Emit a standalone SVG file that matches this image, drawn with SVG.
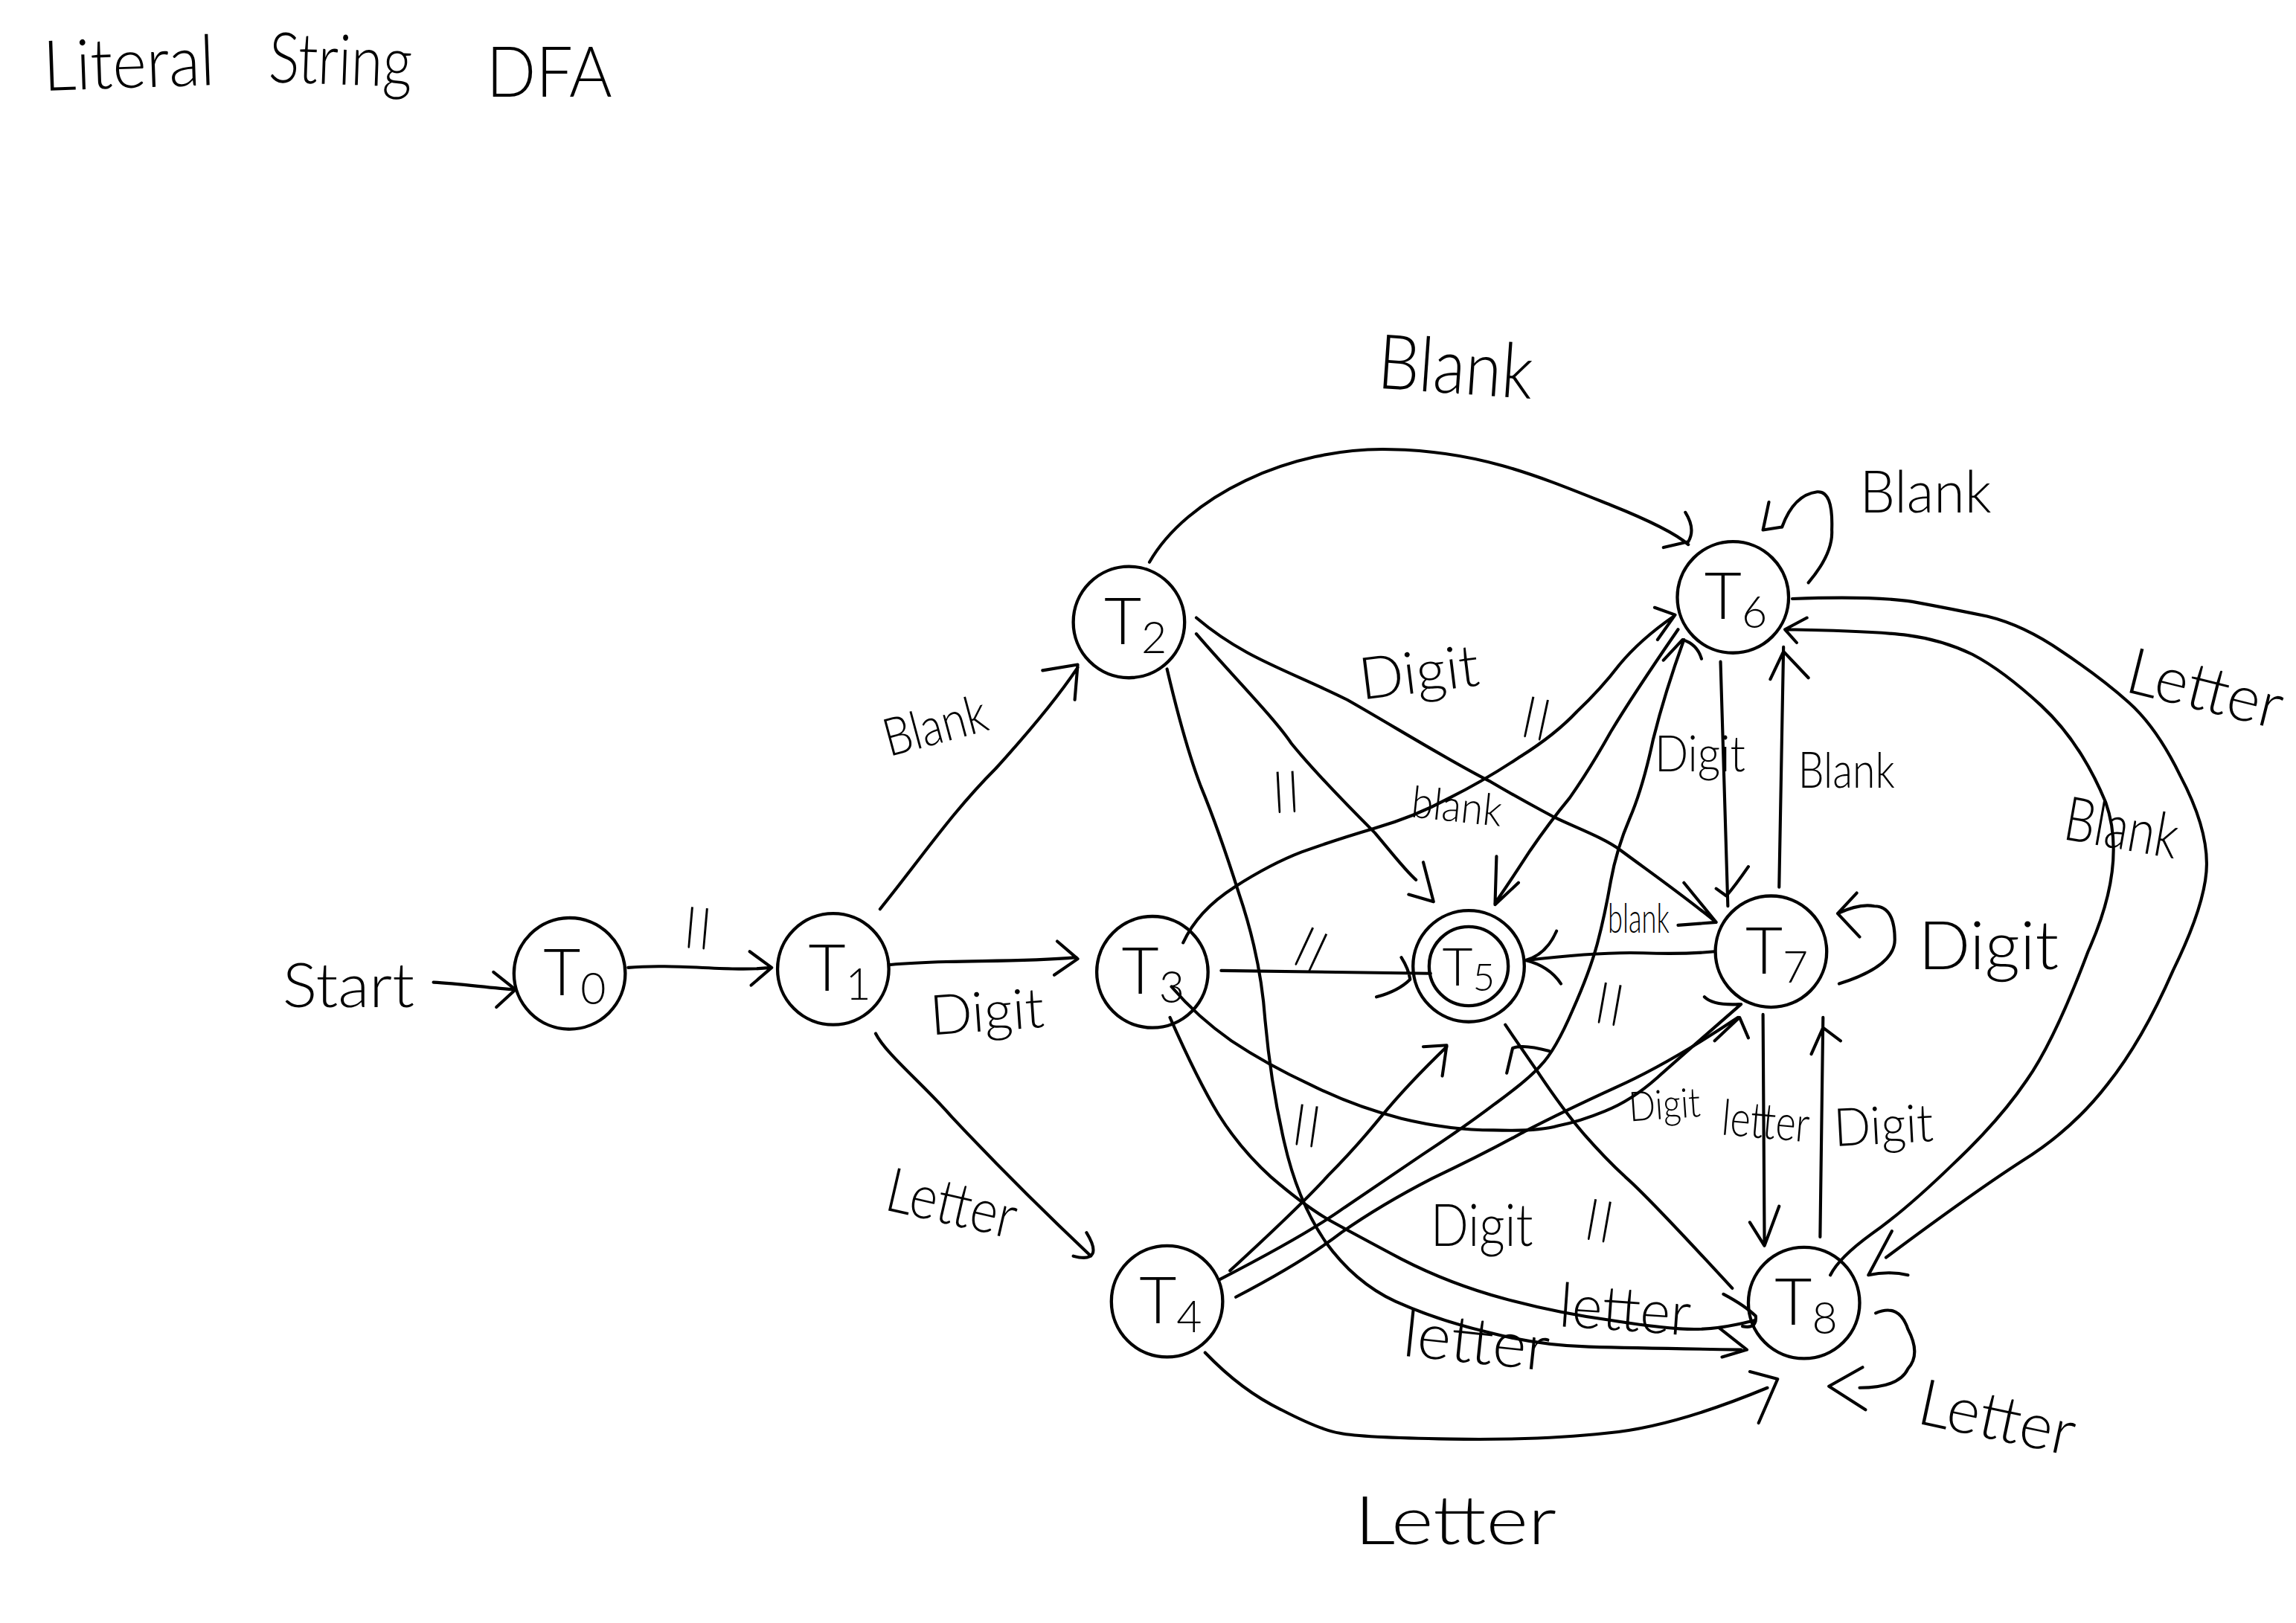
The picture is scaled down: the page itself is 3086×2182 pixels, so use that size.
<svg xmlns="http://www.w3.org/2000/svg" width="3086" height="2182" viewBox="0 0 3086 2182">
<style>
.bg{fill:#fff}
.c{fill:none;stroke:#000;stroke-width:2.1;stroke-linecap:round;stroke-linejoin:round}
.n{fill:none;stroke:#000;stroke-width:2.2}
text{font-family:"Lato","Liberation Sans",sans-serif;font-weight:300;fill:#000}
.t{font-size:44px}
.s{font-size:30px}
.q{font-weight:100;font-size:100px;text-anchor:middle;stroke:#000;stroke-width:.9}
</style>
<rect class="bg" width="3086" height="2182"/>
<g transform="scale(1.96811)">
<g id="connectors">
<path class="c" id="e-start" d="M296,671 C315,672 335,675 352,676 M337,664 L352,676 L339,688"/>
<path class="c" id="e-t0-t1" d="M429,661 C460,658 500,664 526,661 M512,650 L527,661 L513,673"/>
<path class="c" id="e-t1-t2" d="M601,621 C630,585 650,555 680,525 C700,503 720,480 736,456 M712,458 L736,454 L734,478"/>
<path class="c" id="e-t1-t3" d="M608,659 C650,655 690,658 735,654 M722,643 L736,655 L720,666"/>
<path class="c" id="e-t1-t4" d="M598,706 C605,720 630,740 650,763 C680,795 710,825 745,858 M742,842 C750,855 748,862 733,858"/>
<path class="c" id="e-t2-t6" d="M785,384 C810,340 880,305 950,307 C1010,308 1050,325 1100,345 C1125,355 1145,365 1153,372 M1151,350 C1156,358 1156,365 1153,370 L1136,374"/>
<path class="c" id="e-t2-t5" d="M817,433 C840,460 870,490 882,508 C900,530 925,555 939,569 C950,582 960,595 967,601 M972,589 L979,616 L962,611"/>
<path class="c" id="e-t2-t7" d="M817,422 C850,450 880,458 920,478 C950,495 990,520 1018,534 C1040,547 1050,552 1061,558 C1075,565 1095,572 1107,581 C1130,598 1150,612 1172,630 M1150,603 L1172,630 L1146,632"/>
<path class="c" id="e-t2-t8" d="M797,457 Q809,508 820,537 Q832,566 846,610 Q861,654 864,697 Q868,741 877,780 Q886,820 905,848 Q925,876 953,889 Q982,902 1016,910 Q1050,919 1085,920 Q1120,921 1189,922 M1174,907 L1193,922 L1176,927"/>
<path class="c" id="e-t3-t6" d="M808,644 Q818,622 843,606 Q868,590 889,582 Q911,574 938,566 Q966,558 990,545 Q1014,533 1038,517 Q1062,502 1077,486 Q1093,471 1106,454 Q1120,437 1143,421 M1130,415 L1144,420 L1132,437"/>
<path class="c" id="e-t3-t5" d="M834,663 Q890,664 977,665 M957,654 Q962,662 963,669 Q955,677 940,681"/>
<path class="c" id="e-t3-t7" d="M800,674 Q818,695 841,711 Q865,727 895,741 Q925,756 957,764 Q990,772 1020,772 Q1050,773 1064,769 Q1079,766 1096,759 Q1114,752 1132,736 Q1150,720 1189,686 M1164,681 Q1170,687 1188,686"/>
<path class="c" id="e-t3-t8" d="M799,695 Q818,738 832,761 Q847,785 868,804 Q890,823 907,833 Q925,843 957,860 Q990,877 1027,887 Q1064,897 1101,902 Q1139,908 1157,908 Q1175,908 1198,902 M1177,884 Q1192,892 1199,899 Q1200,908 1190,906"/>
<path class="c" id="e-t4-t5" d="M840,868 Q890,822 907,803 Q925,785 943,763 Q961,741 988,715 M972,715 L988,714 L985,735"/>
<path class="c" id="e-t4-t6" d="M833,874 Q893,843 918,825 Q943,808 971,789 Q1000,770 1021,754 Q1043,738 1052,728 Q1062,718 1074,690 Q1086,663 1091,644 Q1096,625 1100,602 Q1104,580 1113,559 Q1122,538 1129,505 Q1137,473 1150,437 M1136,451 L1149,437 Q1159,440 1162,450"/>
<path class="c" id="e-t4-t7" d="M844,886 Q890,862 916,842 Q943,823 978,805 Q1014,788 1041,773 Q1068,759 1103,743 Q1139,727 1187,695 M1171,711 L1188,695 L1194,709"/>
<path class="c" id="e-t4-t8" d="M823,924 Q848,950 875,963 Q902,977 915,979 Q929,982 990,983 Q1052,984 1097,979 Q1142,975 1207,948 M1195,937 L1214,942 L1201,972"/>
<path class="c" id="e-t8-t5" d="M1183,880 Q1125,817 1110,804 Q1096,791 1082,775 Q1068,759 1050,732 Q1032,706 1028,700 M1058,718 Q1040,713 1033,716 L1029,733"/>
<path class="c" id="e-t6-t5" d="M1146,430 Q1115,475 1100,500 Q1086,525 1072,545 Q1058,562 1045,581 Q1032,601 1021,617 M1022,585 L1021,618 L1037,603"/>
<path class="c" id="e-t7-t5" d="M1171,650 Q1150,652 1122,651 Q1093,650 1042,656 M1063,636 Q1056,652 1042,656 Q1058,660 1066,672"/>
<path class="c" id="e-t6-t7" d="M1175,452 L1180,619 M1172,607 L1179,612 Q1185,605 1194,592"/>
<path class="c" id="e-t7-t6" d="M1215,606 L1218,442 M1209,464 L1218,445 L1235,463"/>
<path class="c" id="e-t7-t7" d="M1256,672 Q1294,660 1294,642 Q1294,619 1280,619 Q1270,617 1255,624 M1268,610 L1255,624 L1270,640"/>
<path class="c" id="e-t6-t6" d="M1235,398 Q1252,378 1251,362 Q1252,335 1241,336 Q1225,338 1217,360 M1208,343 L1204,362 L1217,360"/>
<path class="c" id="e-t6-t8" d="M1224,409 Q1280,407 1306,411 Q1333,416 1357,421 Q1382,427 1408,445 Q1435,463 1454,480 Q1473,497 1489,530 Q1507,564 1507,590 Q1507,616 1484,663 Q1463,711 1439,741 Q1415,772 1381,793 Q1347,815 1288,859 M1292,841 L1276,871 Q1290,868 1303,871"/>
<path class="c" id="e-t8-t6" d="M1250,871 Q1256,859 1278,843 Q1301,827 1333,796 Q1365,766 1384,738 Q1403,711 1426,650 Q1453,590 1438,548 Q1421,507 1394,482 Q1368,458 1347,447 Q1326,437 1303,434 Q1280,431 1220,430 M1234,422 L1219,430 L1227,439"/>
<path class="c" id="e-t7-t8" d="M1204,693 L1205,851 M1195,835 L1205,851 L1215,824"/>
<path class="c" id="e-t8-t7" d="M1243,845 L1245,695 M1237,720 L1245,702 L1257,711"/>
<path class="c" id="e-t8-t8" d="M1281,897 Q1297,890 1303,908 Q1312,925 1303,935 Q1297,948 1270,948 M1272,934 L1249,947 L1274,963"/>
</g>
<g id="T0"><circle class="n" cx="389" cy="665" r="38"/><text class="t" x="371" y="680">T<tspan class="s" dy="6">0</tspan></text></g>
<g id="T1"><circle class="n" cx="569" cy="662" r="38"/><text class="t" x="552" y="677">T<tspan class="s" dy="6">1</tspan></text></g>
<g id="T2"><circle class="n" cx="771" cy="425" r="38"/><text class="t" x="754" y="440">T<tspan class="s" dy="6">2</tspan></text></g>
<g id="T3"><circle class="n" cx="787" cy="664" r="38"/><text class="t" x="766" y="679">T<tspan class="s" dy="6">3</tspan></text></g>
<g id="T4"><circle class="n" cx="797" cy="889" r="38"/><text class="t" x="778" y="904">T<tspan class="s" dy="6">4</tspan></text></g>
<g id="T5"><circle class="n" cx="1003" cy="660" r="38"/><circle class="n" cx="1003" cy="660" r="27"/><text x="985" y="673" style="font-size:36px">T<tspan dy="4" style="font-size:26px">5</tspan></text></g>
<g id="T6"><circle class="n" cx="1183.500" cy="408" r="38"/><text class="t" x="1164" y="423">T<tspan class="s" dy="6">6</tspan></text></g>
<g id="T7"><circle class="n" cx="1209.500" cy="650" r="38"/><text class="t" x="1192" y="665">T<tspan class="s" dy="6">7</tspan></text></g>
<g id="T8"><circle class="n" cx="1232" cy="890" r="38"/><text class="t" x="1212" y="905">T<tspan class="s" dy="6">8</tspan></text></g>
<g id="labels">
<text x="30" y="62" textLength="117" lengthAdjust="spacingAndGlyphs" style="font-size:48px" transform="rotate(-2 30 62)">Literal</text>
<text x="183" y="56" textLength="98" lengthAdjust="spacingAndGlyphs" style="font-size:48px" transform="rotate(2 183 56)">String</text>
<text x="332" y="66" textLength="86" lengthAdjust="spacingAndGlyphs" style="font-size:48px">DFA</text>
<text x="193" y="688" textLength="90" lengthAdjust="spacingAndGlyphs" style="font-size:42px">Start</text>
<text x="940" y="265" textLength="106" lengthAdjust="spacingAndGlyphs" style="font-size:52px" transform="rotate(4 940 265)">Blank</text>
<text x="607" y="517" textLength="72" lengthAdjust="spacingAndGlyphs" style="font-size:36px" transform="rotate(-15 607 517)">Blank</text>
<text x="636" y="707" textLength="78" lengthAdjust="spacingAndGlyphs" style="font-size:38px" transform="rotate(-4 636 707)">Digit</text>
<text x="603" y="826" textLength="90" lengthAdjust="spacingAndGlyphs" style="font-size:42px" transform="rotate(13 603 826)">Letter</text>
<text x="930" y="478" textLength="82" lengthAdjust="spacingAndGlyphs" style="font-size:40px" transform="rotate(-7 930 478)">Digit</text>
<text x="1270" y="350" textLength="90" lengthAdjust="spacingAndGlyphs" style="font-size:40px">Blank</text>
<text x="1450" y="472" textLength="108" lengthAdjust="spacingAndGlyphs" style="font-size:44px" transform="rotate(14 1450 472)">Letter</text>
<text x="1408" y="573" textLength="78" lengthAdjust="spacingAndGlyphs" style="font-size:42px" transform="rotate(10 1408 573)">Blank</text>
<text x="1130" y="527" textLength="62" lengthAdjust="spacingAndGlyphs" style="font-size:34px">Digit</text>
<text x="1228" y="538" textLength="66" lengthAdjust="spacingAndGlyphs" style="font-size:34px">Blank</text>
<text x="963" y="558" textLength="62" lengthAdjust="spacingAndGlyphs" style="font-size:30px" transform="rotate(6 963 558)">blank</text>
<text x="1098" y="637" textLength="42" lengthAdjust="spacingAndGlyphs" style="font-size:28px">blank</text>
<text x="1310" y="662" textLength="96" lengthAdjust="spacingAndGlyphs" style="font-size:46px">Digit</text>
<text x="1113" y="766" textLength="49" lengthAdjust="spacingAndGlyphs" style="font-size:28px" transform="rotate(-4 1113 766)">Digit</text>
<text x="1175" y="775" textLength="60" lengthAdjust="spacingAndGlyphs" style="font-size:34px" transform="rotate(5 1175 775)">letter</text>
<text x="1253" y="783" textLength="68" lengthAdjust="spacingAndGlyphs" style="font-size:36px" transform="rotate(-3 1253 783)">Digit</text>
<text x="977" y="851" textLength="70" lengthAdjust="spacingAndGlyphs" style="font-size:40px">Digit</text>
<text x="1064" y="906" textLength="90" lengthAdjust="spacingAndGlyphs" style="font-size:42px" transform="rotate(4 1064 906)">letter</text>
<text x="957" y="926" textLength="100" lengthAdjust="spacingAndGlyphs" style="font-size:44px" transform="rotate(6 957 926)">letter</text>
<text x="925" y="1055" textLength="138" lengthAdjust="spacingAndGlyphs" style="font-size:46px">Letter</text>
<text x="1308" y="972" textLength="108" lengthAdjust="spacingAndGlyphs" style="font-size:44px" transform="rotate(12 1308 972)">Letter</text>
<text class="q" transform="translate(477 630) rotate(5) scale(.8 1.2)" y="62">"</text>
<text class="q" transform="translate(897 645) rotate(25) scale(.8 1.2)" y="62">"</text>
<text class="q" transform="translate(1050 487) rotate(12) scale(.8 1.2)" y="62">"</text>
<text class="q" transform="translate(1100 682) rotate(10) scale(.8 1.2)" y="62">"</text>
<text class="q" transform="translate(893 765) rotate(8) scale(.8 1.2)" y="62">"</text>
<text class="q" transform="translate(1093 830) rotate(10) scale(.8 1.2)" y="62">"</text>
<text class="q" transform="translate(878 537) rotate(-3) scale(.8 1.2)" y="62">"</text>
</g>
</g>
</svg>
